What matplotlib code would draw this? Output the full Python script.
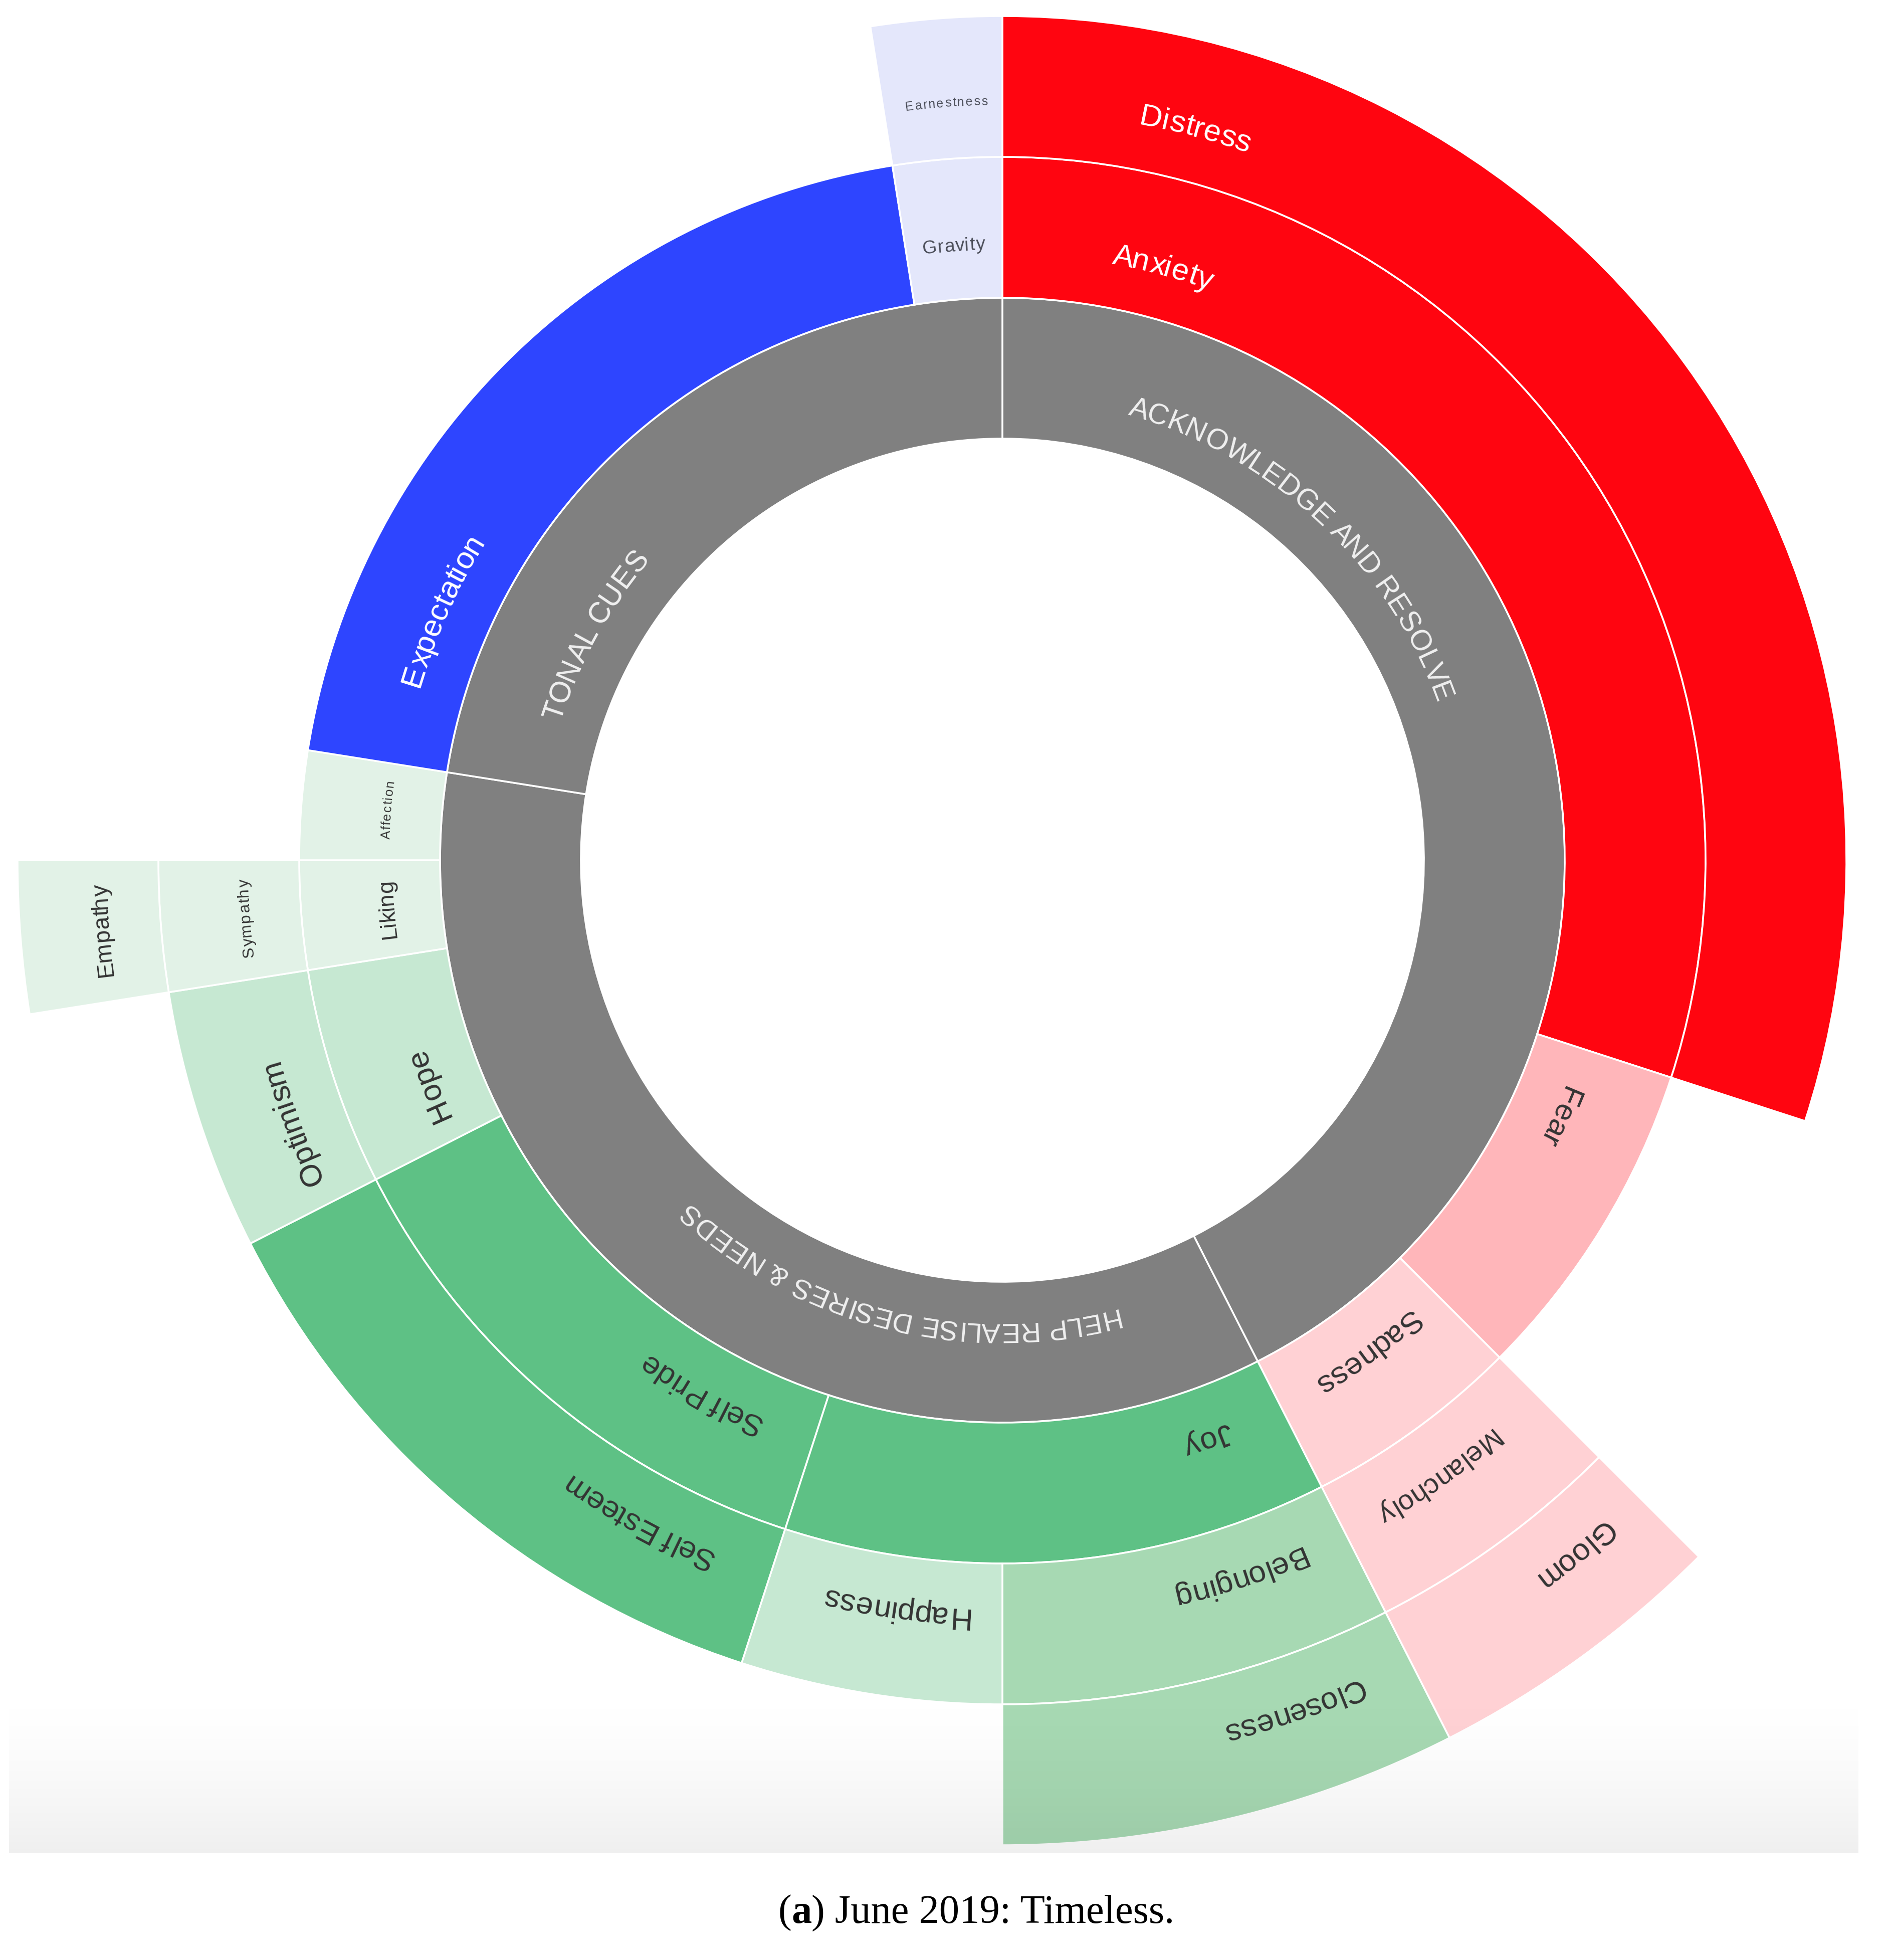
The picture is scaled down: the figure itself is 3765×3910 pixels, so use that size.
"""
Sunburst of tone categories (June 2019: Timeless) drawn with plain matplotlib wedges.
Labels follow the arcs, one glyph at a time.
"""

import numpy as np
import matplotlib
matplotlib.use("Agg")
import matplotlib.pyplot as plt
from matplotlib.patches import Wedge
from matplotlib.font_manager import FontProperties, findfont
from matplotlib.ft2font import FT2Font

try:
    from matplotlib.ft2font import Kerning
    KERN = Kerning.DEFAULT
except ImportError:  # older matplotlib
    KERN = 0

# ── data ──────────────────────────────────────────────────────────────────────
labels = [
    "ACKNOWLEDGE AND RESOLVE", "HELP REALISE DESIRES & NEEDS", "TONAL CUES",
    "Anxiety", "Fear", "Sadness",
    "Joy", "Self Pride", "Hope", "Liking", "Affection",
    "Expectation", "Gravity",
    "Distress", "Melancholy",
    "Belonging", "Happiness", "Self Esteem", "Optimism", "Sympathy",
    "Earnestness",
    "Gloom", "Closeness", "Empathy",
]
parents = [
    "", "", "",
    "ACKNOWLEDGE AND RESOLVE", "ACKNOWLEDGE AND RESOLVE", "ACKNOWLEDGE AND RESOLVE",
    "HELP REALISE DESIRES & NEEDS", "HELP REALISE DESIRES & NEEDS", "HELP REALISE DESIRES & NEEDS",
    "HELP REALISE DESIRES & NEEDS", "HELP REALISE DESIRES & NEEDS",
    "TONAL CUES", "TONAL CUES",
    "Anxiety", "Sadness",
    "Joy", "Joy", "Self Pride", "Hope", "Liking",
    "Gravity",
    "Melancholy", "Belonging", "Sympathy",
]
values = [
    17, 14, 9,
    12, 3, 2,
    5, 5, 2, 1, 1,
    8, 1,
    12, 2,
    3, 2, 5, 2, 1,
    1,
    2, 3, 1,
]

caption = ["(", "a", ") June 2019: Timeless."]

# ── style ─────────────────────────────────────────────────────────────────────
W_PX, H_PX, DPI = 3766, 3910, 100
CX, CY = 2000, 1716          # centre in image pixels
R_HOLE, RING = 841, 281
TEXT_R = [944, 1232, 1516, 1803]

GRAY = "#808080"
RED = "#ff0510"
BLUE = "#2e45ff"
LAVENDER = "#e4e7fb"
FEAR = "#ffb6ba"
PINK = "#ffd1d4"
GREEN = "#5ec185"
MINT = "#a7d9b3"
PALE = "#c6e8d2"
PALEST = "#e2f2e7"

COLORS = {
    "ACKNOWLEDGE AND RESOLVE": GRAY, "HELP REALISE DESIRES & NEEDS": GRAY, "TONAL CUES": GRAY,
    "Anxiety": RED, "Distress": RED, "Fear": FEAR,
    "Sadness": PINK, "Melancholy": PINK, "Gloom": PINK,
    "Joy": GREEN, "Self Pride": GREEN, "Self Esteem": GREEN,
    "Belonging": MINT, "Closeness": MINT,
    "Happiness": PALE, "Hope": PALE, "Optimism": PALE,
    "Liking": PALEST, "Affection": PALEST, "Sympathy": PALEST, "Empathy": PALEST,
    "Expectation": BLUE, "Gravity": LAVENDER, "Earnestness": LAVENDER,
}
LIGHT_TEXT = {GRAY: "#f0f0f0", RED: "#ffffff", BLUE: "#ffffff"}
DARK_TEXT = "#333333"

# label centre, degrees past the start of its segment
LABEL_OFFSET = {
    "ACKNOWLEDGE AND RESOLVE": 43, "HELP REALISE DESIRES & NEEDS": 41, "TONAL CUES": 20,
    "Anxiety": 15.2, "Fear": 6.6, "Sadness": 8.3, "Joy": 7.5, "Self Pride": 11.4,
    "Hope": 5.5, "Liking": 4.4, "Affection": 4.7, "Expectation": 15.1, "Gravity": 4.5,
    "Distress": 14.9, "Melancholy": 9.6, "Belonging": 8.6, "Happiness": 8,
    "Self Esteem": 10.8, "Optimism": 6.7, "Sympathy": 4.6, "Earnestness": 4.8,
    "Gloom": 5.5, "Closeness": 8, "Empathy": 4.5,
}
# font size in pixels (em)
LABEL_SIZE = {
    "ACKNOWLEDGE AND RESOLVE": 58, "HELP REALISE DESIRES & NEEDS": 56, "TONAL CUES": 59,
    "Liking": 45, "Affection": 26, "Gravity": 37, "Earnestness": 25,
    "Sympathy": 32, "Empathy": 47, "Melancholy": 56, "Fear": 60,
}
DEFAULT_SIZE = 62
# extra letter spacing (pixels) on the tiny labels
TRACKING = {"Earnestness": 2.5, "Affection": 2.0, "Sympathy": 2.0, "Gravity": 1.0}


# ── layout ────────────────────────────────────────────────────────────────────
def partition():
    total = sum(v for v, p in zip(values, parents) if p == "")
    depth, start, span = {}, {}, {}
    cursor = {"": 0.0}
    for lab, par, val in zip(labels, parents, values):
        depth[lab] = 0 if par == "" else depth[par] + 1
        start[lab] = cursor[par]
        span[lab] = val / total * 360.0
        cursor[par] += span[lab]
        cursor[lab] = start[lab]
    return depth, start, span


def glyph_layout(s, prop, tracking=0.0):
    """Ink centre of each glyph along the baseline, Agg's unrotated bitmap
    offset for each glyph, and the total advance (all in pixels)."""
    font = FT2Font(findfont(prop))
    font.set_size(prop.get_size_in_points(), DPI)
    pen, prev, centres = 0.0, None, []
    for ch in s:
        idx = font.get_char_index(ord(ch))
        if prev is not None:
            pen += tracking
            try:
                pen += font.get_kerning(prev, idx, KERN) / 64
            except Exception:
                pass
        g = font.load_char(ord(ch))
        centres.append(pen + (g.horiBearingX + g.width / 2) / 64)
        pen += g.linearHoriAdvance / 65536
        prev = idx
    offsets = []
    for ch in s:
        font.set_text(ch, 0.0)
        offsets.append(font.get_bitmap_offset()[0] / 64)
    return centres, offsets, pen


def arc_text(ax, s, theta_c, r_c, size_px, color, tracking=0.0, family="Liberation Sans"):
    prop = FontProperties(family=family, size=size_px * 72 / DPI)
    centres, offsets, total = glyph_layout(s, prop, tracking)
    rb = r_c - 0.36 * size_px
    for ch, c, off in zip(s, centres, offsets):
        if ch == " ":
            continue
        th = theta_c + np.degrees((c - total / 2) / rb)
        x = CX + rb * np.sin(np.radians(th))
        y = CY - rb * np.cos(np.radians(th))
        # Agg shifts each glyph bitmap by its left bearing along screen x,
        # whatever the rotation, so take that back out here
        ax.text(x - off, y, ch, fontproperties=prop, color=color, ha="center", va="baseline",
                rotation=-th, rotation_mode="anchor", zorder=6)


def main():
    fig = plt.figure(figsize=(W_PX / DPI, H_PX / DPI), dpi=DPI)
    fig.patch.set_facecolor("white")
    ax = fig.add_axes([0, 0, 1, 1])
    ax.set_axis_off()

    depth, start, span = partition()

    for lab in labels:
        d = depth[lab]
        r_out = R_HOLE + (d + 1) * RING
        th1, th2 = start[lab], start[lab] + span[lab]
        ax.add_patch(Wedge((CX, CY), r_out, th1 - 90, th2 - 90, width=RING,
                           facecolor=COLORS[lab], edgecolor="white", linewidth=2.6, zorder=2))

    # faint grey fade at the bottom of the screenshot
    n = 256
    t = np.linspace(0, 1, n)
    grad = np.zeros((n, 1, 4))
    grad[:, 0, 3] = 0.065 * t ** 1.6
    ax.imshow(grad, extent=(18, 3708, 3696, 3350), aspect="auto", zorder=5, interpolation="bilinear")

    ax.set_xlim(0, W_PX)
    ax.set_ylim(H_PX, 0)

    for lab in labels:
        col = COLORS[lab]
        txt_col = LIGHT_TEXT.get(col, DARK_TEXT)
        if col == LAVENDER:
            txt_col = "#4a4d58"
        arc_text(ax, lab, start[lab] + LABEL_OFFSET[lab], TEXT_R[depth[lab]],
                 LABEL_SIZE.get(lab, DEFAULT_SIZE), txt_col, TRACKING.get(lab, 0.0))

    # caption with bold panel letter
    renderer = fig.canvas.get_renderer()
    weights = ["normal", "bold", "normal"]
    props = [FontProperties(family="Liberation Serif", size=58, weight=w) for w in weights]
    widths = [renderer.get_text_width_height_descent(s, p, ismath=False)[0] for s, p in zip(caption, props)]
    x = 1948 - sum(widths) / 2
    for s, p, w in zip(caption, props, widths):
        ax.text(x, 3836, s, fontproperties=p, color="black", ha="left", va="baseline")
        x += w

    fig.savefig("out.png", dpi=DPI, facecolor="white")
    plt.close(fig)


if __name__ == "__main__":
    main()
